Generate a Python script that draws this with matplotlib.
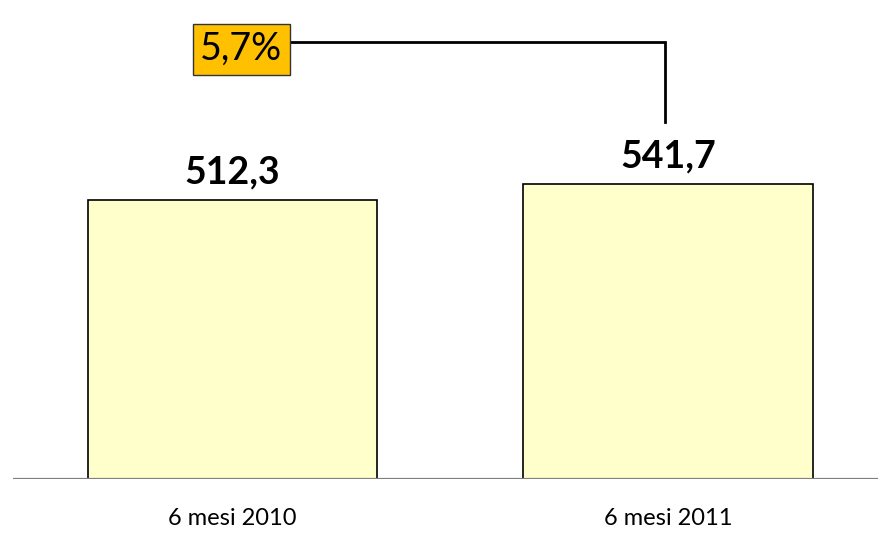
import numpy as np
import matplotlib.pyplot as plt

plt.rcParams['font.family'] = ['Lato', 'DejaVu Sans']

# data
categories = ['6 mesi 2010', '6 mesi 2011']
values = [512.3, 541.7]
value_labels = ['512,3', '541,7']
growth_label = '5,7%'

W, H = 879, 534
fig = plt.figure(figsize=(W / 100, H / 100), dpi=100)
# axes placed in pixel terms: left edge 13 px, baseline at 479 px from top
ax = fig.add_axes([13 / W, (H - 479) / H, (W - 13) / W, 479 / H])

x = np.arange(len(categories))
ax.bar(x, values, width=0.664, color='#FFFFCC', edgecolor='black', linewidth=1.2, zorder=2)

ax.set_xlim(-0.504, 1.4845)
ax.set_ylim(0, 881)

for xi, v, lab in zip(x, values, value_labels):
    ax.annotate(lab, (xi, v), xytext=(0, 8), textcoords='offset points',
                ha='center', va='bottom', fontsize=27, fontweight='bold')

# growth connector
line_y = values[1] + 262
ax.plot([x[0], x[1] - 0.007, x[1] - 0.007], [line_y, line_y, values[1] + 115],
        color='black', linewidth=2, zorder=3, solid_joinstyle='miter')
ax.annotate(growth_label, (x[0] + 0.02, line_y - 13), ha='center', va='center',
            fontsize=27, zorder=5,
            bbox=dict(boxstyle='square,pad=0.2', facecolor='#FFC000', edgecolor='#333333', linewidth=1))

ax.axhline(0, color='#808080', linewidth=1.6, zorder=3)
for s in ax.spines.values():
    s.set_visible(False)
ax.set_yticks([])
ax.set_xticks(x)
ax.set_xticklabels(categories, fontsize=17)
ax.tick_params(axis='x', length=0, pad=21)

fig.savefig('out.png', dpi=100)
